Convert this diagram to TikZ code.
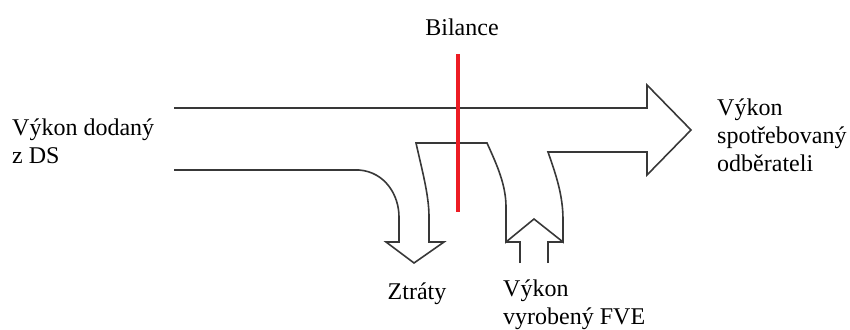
\documentclass[tikz,border=0pt]{standalone}
\usepackage{fontspec}
\setmainfont{Liberation Serif}
\begin{document}
\begin{tikzpicture}[x=1pt,y=-1pt,
  flow/.style={draw=black!78,line width=1.6pt,line join=miter},
  label/.style={inner sep=0pt,font=\rmfamily\fontsize{24}{28}\selectfont,text=black},
  balance/.style={draw={rgb,255:red,237;green,28;blue,36},line width=4pt}]
\useasboundingbox (0,0) rectangle (850,329);

% main flow band with the two side branches
\draw[flow] (174,108) -- (647,108) -- (647,85) -- (691,130) -- (647,175) -- (647,152)
  -- (548,152) .. controls (556,175) and (563,195) .. (563,220) -- (563,242)
  -- (534,219) -- (506,242) -- (506,207)
  .. controls (506,185) and (497,165) .. (487,143)
  -- (416,143) .. controls (422,170) and (429,195) .. (429,217) -- (429,242)
  -- (444,242) -- (414,263) -- (386,242) -- (399,242) -- (399,217)
  .. controls (399,195) and (385,172) .. (359,170) -- (174,170);

% stem of the incoming FVE arrow, joined to its head
\draw[flow] (520,263) -- (520,242) -- (506,242);
\draw[flow] (548,263) -- (548,242) -- (563,242);

% balance boundary
\coordinate (btop) at (458,54);
\coordinate (bbot) at (458,212);
\draw[balance] (btop) -- (bbot);

\node[label] (bil) at (462,27) {Bilance};
\node[label,align=left,anchor=west] (ds) at (12,141) {Výkon dodaný\\z DS};
\node[label,align=left,anchor=west] (odb) at (717,135) {Výkon\\spotřebovaný\\odběrateli};
\node[label] (ztr) at (417,294) {Ztráty};
\node[label,align=left,anchor=west] (fve) at (503,305) {Výkon\\vyrobený FVE};
\end{tikzpicture}
\end{document}
